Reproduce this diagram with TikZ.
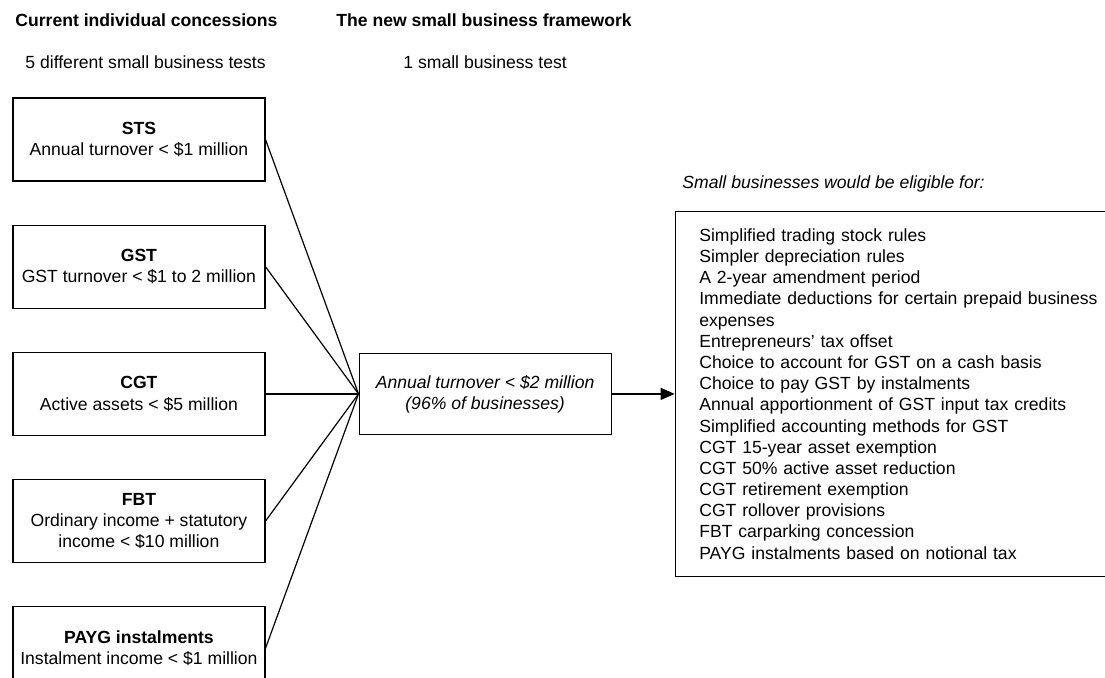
\documentclass[tikz,border=0pt]{standalone}
\usepackage{fontspec}
\setmainfont{Liberation Sans}
\usetikzlibrary{arrows.meta,positioning}

\begin{document}
\begin{tikzpicture}[
  x=0.5pt, y=-0.5pt,
  node distance=21.5pt,
  every node/.style={font=\fontsize{8.8}{10.6}\selectfont},
  heading/.style={anchor=base west, inner sep=0pt,
    font=\fontsize{8.8}{10.6}\selectfont\bfseries},
  caption/.style={anchor=base west, inner sep=0pt},
  test/.style={draw=black, line width=0.6pt,
    minimum width=126pt, minimum height=41.5pt,
    align=center, inner sep=2pt},
  framework/.style={test, minimum height=40.5pt,
    font=\fontsize{8.8}{10.6}\selectfont\itshape},
  benefits/.style={draw=black, line width=0.6pt,
    minimum height=182.5pt, text width=210pt,
    align=left, inner xsep=12pt},
  link/.style={draw=black, line width=0.6pt},
  flow/.style={-{Triangle[length=7pt,width=6pt]},
    draw=black, line width=0.6pt}
]
\clip (0,0) rectangle (1105,677);
% headings
\node[heading] (current) at (15,26.8) {Current individual concessions};
\node[heading] (new) at (336,26.8) {The new small business framework};
\node[caption] (five) at (25,68.3) {5 different small business tests};
\node[caption] (one) at (403,68.3) {1 small business test};
% current tests
\node[test] (sts) at (138.9,139.5) {\textbf{STS}\\Annual turnover < \$1 million};
\node[test, below=of sts] (gst) {\textbf{GST}\\GST turnover < \$1 to 2 million};
\node[test, below=of gst] (cgt) {\textbf{CGT}\\Active assets < \$5 million};
\node[test, below=of cgt] (fbt) {\textbf{FBT}\\Ordinary income + statutory\\income < \$10 million};
\node[test, below=of fbt] (payg) {\textbf{PAYG instalments}\\Instalment income < \$1 million};
% new test
\node[framework, right=46.5pt of cgt] (target) {Annual turnover < \$2 million\\(96\% of businesses)};
\node[benefits, right=31.5pt of target] (eligible) {Simplified trading stock rules\\
  Simpler depreciation rules\\
  A 2-year amendment period\\
  Immediate deductions for certain prepaid business\\
  expenses\\
  Entrepreneurs’ tax offset\\
  Choice to account for GST on a cash basis\\
  Choice to pay GST by instalments\\
  Annual apportionment of GST input tax credits\\
  Simplified accounting methods for GST\\
  CGT 15-year asset exemption\\
  CGT 50\% active asset reduction\\
  CGT retirement exemption\\
  CGT rollover provisions\\
  FBT carparking concession\\
  PAYG instalments based on notional tax};
\node[caption, font=\fontsize{8.8}{10.6}\selectfont\itshape] (eligiblelabel) at (682,188) {Small businesses would be eligible for:};
% connectors
\foreach \src in {sts,gst,cgt,fbt,payg}
  \draw[link] (\src.east) -- (target.west);
\draw[flow] (target) -- (eligible);
\end{tikzpicture}
\end{document}
